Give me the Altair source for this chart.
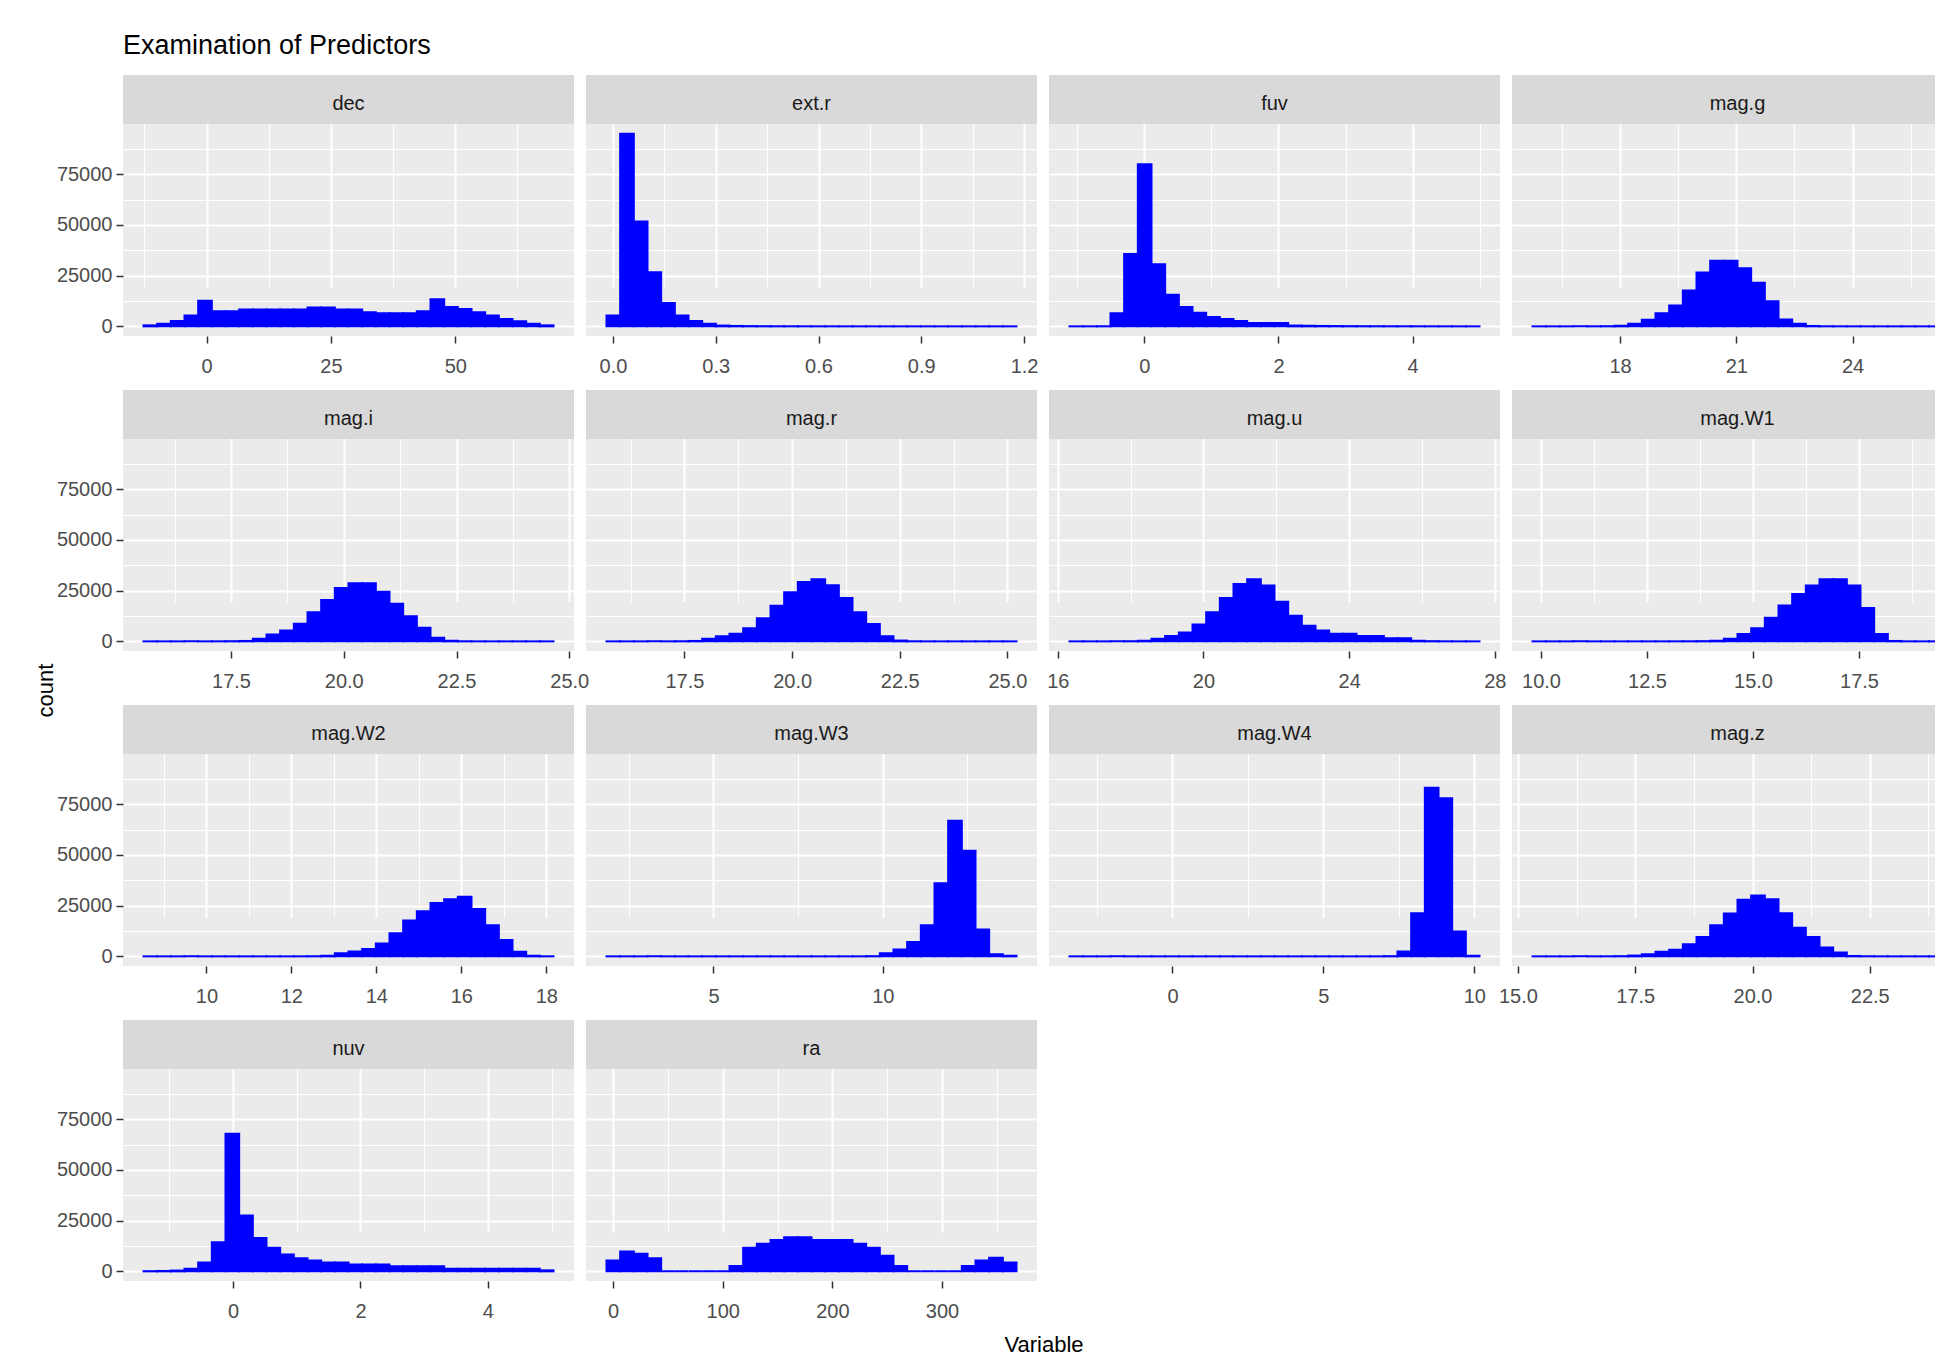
import altair as alt
import pandas as pd

# ---------------- data ----------------
TITLE = ["Examination of Predictors"]
NAMES = ["dec", "ext.r", "fuv", "mag.g",
         "mag.i", "mag.r", "mag.u", "mag.W1",
         "mag.W2", "mag.W3", "mag.W4", "mag.z",
         "nuv", "ra"]

# outer edges of the 30 histogram bins for each variable
BIN_LO = [-12.67, -0.019, -1.114, 15.74,
          15.56, 15.69, 16.32, 9.80,
          8.52, 1.84, -3.41, 15.31,
          -1.406, -6.0]
BIN_HI = [69.75, 1.178, 4.996, 26.32,
          24.65, 25.21, 27.58, 19.47,
          18.17, 13.95, 10.17, 24.05,
          5.03, 368.0]

# major tick labels on each x axis
X_TICKS = [[0, 25, 50], [0.0, 0.3, 0.6, 0.9, 1.2], [0, 2, 4], [18, 21, 24],
           [17.5, 20.0, 22.5, 25.0], [17.5, 20.0, 22.5, 25.0], [16, 20, 24, 28], [10.0, 12.5, 15.0, 17.5],
           [10, 12, 14, 16, 18], [5, 10], [0, 5, 10], [15.0, 17.5, 20.0, 22.5],
           [0, 2, 4], [0, 100, 200, 300]]
X_FMT = ["d", ".1f", "d", "d",
         ".1f", ".1f", "d", ".1f",
         "d", "d", "d", ".1f",
         "d", "d"]
Y_TICKS = [0, 25000, 50000, 75000]

# bin counts (30 bins each)
dec = [500, 1300, 2600, 5400, 12600, 7400, 7400, 8300, 8300, 8300, 8300, 8300, 9300, 9300, 8300,
       8300, 7000, 6500, 6500, 6500, 7400, 13400, 9500, 8500, 6900, 5400, 3600, 2500, 1300, 500]
ext_r = [5400, 95000, 51700, 26700, 11500, 5400, 2600, 1300, 400, 200, 120, 80, 50, 40, 30,
         20, 15, 10, 8, 6, 5, 4, 3, 2, 2, 1, 1, 1, 1, 1]
fuv = [10, 20, 50, 6500, 35700, 79900, 30600, 15600, 9500, 6700, 4600, 3600, 2600, 1600, 1600,
       1600, 400, 300, 200, 150, 100, 80, 60, 50, 40, 30, 20, 15, 10, 5]
mag_g = [1, 2, 5, 10, 30, 80, 300, 1300, 3300, 6500, 10300, 17700, 26500, 32400, 32400,
         28700, 21500, 12400, 3400, 1300, 200, 50, 20, 10, 5, 3, 2, 1, 1, 1]
mag_i = [1, 1, 2, 5, 10, 30, 80, 200, 1300, 3400, 5400, 8700, 14400, 20400, 26300,
         28600, 28600, 24500, 18500, 12400, 6700, 1800, 300, 50, 10, 5, 2, 1, 1, 1]
mag_r = [1, 1, 2, 5, 20, 60, 200, 1300, 2500, 3800, 6500, 11400, 17500, 24200, 29300,
         30600, 27600, 21400, 14400, 8500, 2500, 400, 50, 10, 5, 2, 1, 1, 1, 1]
mag_u = [1, 2, 5, 20, 80, 300, 1300, 2600, 4400, 8300, 14400, 21400, 28300, 30600, 27500,
         19500, 12600, 7700, 5400, 3800, 3800, 2600, 2600, 1500, 1500, 300, 100, 30, 10, 5]
mag_W1 = [1, 1, 1, 1, 1, 2, 2, 3, 5, 10, 20, 50, 100, 300, 1300,
          3600, 6500, 11600, 17700, 23400, 27500, 30600, 30600, 27500, 16500, 3600, 200, 20, 5, 1]
mag_W2 = [1, 1, 1, 1, 1, 1, 1, 1, 2, 3, 5, 20, 60, 300, 1500,
          2400, 3600, 6300, 11400, 17700, 22200, 26300, 28200, 29400, 23400, 15300, 8100, 2300, 300, 30]
mag_W3 = [1, 1, 1, 1, 1, 1, 1, 1, 1, 1, 1, 1, 1, 1, 2,
          2, 3, 5, 20, 100, 1500, 3400, 7100, 15300, 36000, 66900, 52100, 13300, 1100, 300]
mag_W4 = [1, 1, 1, 1, 1, 1, 1, 1, 1, 1, 1, 1, 1, 1, 1,
          1, 1, 1, 1, 2, 3, 5, 20, 100, 2400, 21300, 83100, 77900, 12200, 300]
mag_z = [1, 1, 2, 5, 10, 30, 100, 400, 1100, 2300, 3200, 6000, 9600, 15300, 21100,
         27900, 30000, 28100, 21300, 14100, 9600, 4400, 1900, 200, 50, 20, 10, 5, 2, 1]
nuv = [100, 200, 400, 1300, 4400, 14400, 67800, 27500, 16500, 11600, 8300, 6500, 5400, 4400, 4400,
       3400, 3400, 3400, 2500, 2500, 2500, 2500, 1300, 1300, 1300, 1300, 1300, 1300, 1300, 500]
ra = [5400, 9800, 8700, 6500, 0, 0, 0, 0, 0, 2600, 11600, 13600, 15500, 16800, 16800,
      15500, 15500, 15500, 13600, 11600, 7700, 2600, 0, 0, 0, 0, 2600, 5400, 6700, 4400]

COUNTS = [dec, ext_r, fuv, mag_g, mag_i, mag_r, mag_u, mag_W1,
          mag_W2, mag_W3, mag_W4, mag_z, nuv, ra]

# ---------------- styling ----------------
FONT = "Liberation Sans, Arial, sans-serif"
W, SH, PH = 451, 49, 212          # panel width, strip height, plot height
W_LAST = 423                      # right-most column is cut by the picture edge
H = SH + PH
NCOL = 4
LABEL_SIZE = 20
BAR_BLUE = "#0000FF"

ymax = max(max(c) for c in COUNTS)
Y_DOMAIN = [-0.05 * ymax, 1.05 * ymax]


def with_minors(majors, dom):
    step = majors[1] - majors[0]
    cand = [majors[0] - step / 2] + [m + step / 2 for m in majors]
    return [v for v in cand if dom[0] <= v <= dom[1]]


def js_list(vals):
    return "[" + ",".join(repr(v) for v in vals) + "]"


def make_panel(i):
    name = NAMES[i]
    lo, hi, counts = BIN_LO[i], BIN_HI[i], COUNTS[i]
    n = len(counts)
    step = (hi - lo) / n
    df = pd.DataFrame({
        "x0": [lo + k * step for k in range(n)],
        "x1": [lo + (k + 1) * step for k in range(n)],
        "count": counts,
        "base": [0] * n,
    })
    col = i % NCOL
    pw = W_LAST if col == NCOL - 1 else W

    rng = hi - lo
    d0, d1 = lo - 0.05 * rng, hi + 0.05 * rng
    # the visible part of a cut panel keeps the full panel's scale
    xdom = [d0, d0 + (d1 - d0) * pw / W]
    xmaj = X_TICKS[i]
    xvals = [v for v in xmaj if v <= xdom[1]] + with_minors(xmaj, xdom)
    xmajor = f"indexof({js_list(xmaj)}, datum.value) >= 0"

    x_axis_kw = dict(
        values=xvals, format=X_FMT[i],
        labelExpr=f"{xmajor} ? datum.label : ''",
        grid=True, gridColor="white",
        gridWidth={"condition": {"test": xmajor, "value": 2}, "value": 1},
        tickOpacity={"condition": {"test": xmajor, "value": 1}, "value": 0},
        tickSize=7, tickWidth=1.5, tickColor="#333333",
        labelFont=FONT, labelFontSize=LABEL_SIZE, labelColor="#4D4D4D",
        labelPadding=13, labelFlush=False, labelOverlap=False,
        domain=False,
    )
    if name == "ra":
        x_axis_kw.update(title="Variable", titleFont=FONT, titleFontSize=22,
                         titleFontWeight="normal", titleColor="black",
                         titleX=457.5, titleY=70, titleAlign="center",
                         titleBaseline="alphabetic")
    else:
        x_axis_kw.update(title=None)

    ymaj = Y_TICKS
    yvals = ymaj + with_minors(ymaj, Y_DOMAIN)
    ymajor = f"indexof({js_list(ymaj)}, datum.value) >= 0"
    y_axis_kw = dict(
        values=yvals, format="d",
        grid=True, gridColor="white",
        gridWidth={"condition": {"test": ymajor, "value": 2}, "value": 1},
        domain=False,
    )
    if col == 0:
        y_axis_kw.update(
            labelExpr=f"{ymajor} ? datum.label : ''",
            tickOpacity={"condition": {"test": ymajor, "value": 1}, "value": 0},
            tickSize=7, tickWidth=1.5, tickColor="#333333",
            labelFont=FONT, labelFontSize=LABEL_SIZE, labelColor="#4D4D4D",
            labelPadding=4, labelOverlap=False,
        )
    else:
        y_axis_kw.update(labels=False, ticks=False)
    if name == "mag.i":
        y_axis_kw.update(title="count", titleFont=FONT, titleFontSize=22,
                         titleFontWeight="normal", titleColor="black",
                         titleAngle=270, titleX=-78, titleY=300,
                         titleAlign="center", titleBaseline="middle")
    else:
        y_axis_kw.update(title=None)

    bars = alt.Chart(df).mark_rect(
        color=BAR_BLUE, stroke=BAR_BLUE, strokeWidth=2, clip=True
    ).encode(
        x=alt.X("x0:Q", scale=alt.Scale(domain=xdom, nice=False, zero=False),
                axis=alt.Axis(**x_axis_kw)),
        x2="x1:Q",
        y=alt.Y("count:Q", scale=alt.Scale(domain=Y_DOMAIN, nice=False, range=[H, SH]),
                axis=alt.Axis(**y_axis_kw)),
        y2="base:Q",
    )

    label_df = pd.DataFrame({"name": [name]})
    strip_bg = alt.Chart(label_df).mark_rect(color="#D9D9D9").encode(
        x=alt.value(0), x2=alt.value(pw), y=alt.value(0), y2=alt.value(SH),
    )
    strip_text = alt.Chart(label_df).mark_text(
        font=FONT, fontSize=20, color="#1A1A1A", baseline="middle", align="center"
    ).encode(
        text="name:N",
        x=alt.value(W / 2),
        y=alt.value(SH / 2 + 4),
    )
    layers = [bars, strip_bg, strip_text]
    if i == 0:
        title = alt.Chart(pd.DataFrame({"t": TITLE})).mark_text(
            font=FONT, fontSize=27, color="black", align="left", baseline="alphabetic"
        ).encode(text="t:N", x=alt.value(0), y=alt.value(-21))
        layers.append(title)

    return alt.layer(*layers).properties(width=pw, height=H)


chart = alt.concat(
    *[make_panel(i) for i in range(len(NAMES))],
    columns=NCOL, spacing={"row": 54, "column": 12}, bounds="flush",
).properties(
    padding={"left": 26, "top": 24, "right": 0, "bottom": 0},
    background="white",
).configure_view(fill="#EBEBEB", strokeWidth=0)

chart.save("out.html", embed_options={"renderer": "svg", "actions": False})
